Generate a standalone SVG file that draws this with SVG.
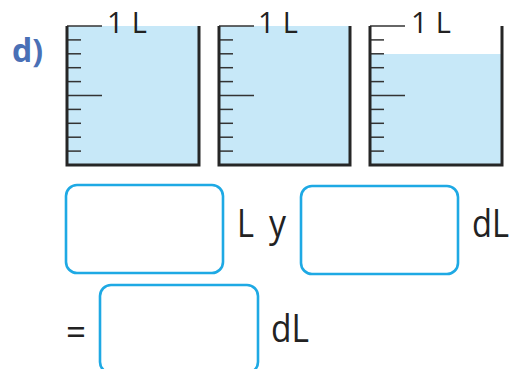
<svg xmlns="http://www.w3.org/2000/svg" width="514" height="369" viewBox="0 0 514 369">
<style>
.water{fill:#c7e8f8}
.wall{fill:none;stroke:#262626;stroke-width:3}
.tick{stroke:#333;stroke-width:1.5}
.box{fill:none;stroke:#1ea9e4;stroke-width:2.6}
.t{font-family:"Open Sans","DejaVu Sans",sans-serif;fill:#222}
</style>
<defs>
<g id="ticks">
<line class="tick" x1="0" y1="0" x2="35" y2="0"/>
<line class="tick" x1="0" y1="13.9" x2="14" y2="13.9"/>
<line class="tick" x1="0" y1="27.8" x2="14" y2="27.8"/>
<line class="tick" x1="0" y1="41.7" x2="14" y2="41.7"/>
<line class="tick" x1="0" y1="55.6" x2="14" y2="55.6"/>
<line class="tick" x1="0" y1="69.5" x2="35" y2="69.5"/>
<line class="tick" x1="0" y1="83.4" x2="14" y2="83.4"/>
<line class="tick" x1="0" y1="97.3" x2="14" y2="97.3"/>
<line class="tick" x1="0" y1="111.2" x2="14" y2="111.2"/>
<line class="tick" x1="0" y1="125.1" x2="14" y2="125.1"/>
</g>
</defs>
<text x="12" y="62" font-family="'Open Sans','DejaVu Sans',sans-serif" font-weight="bold" font-size="32" fill="#4a70b6">d)</text>
<g id="beaker1">
<rect class="water" x="67" y="26" width="132" height="139"/>
<use href="#ticks" x="67" y="26"/>
<path class="wall" d="M67,26 V165 H199 V26"/>
<text class="t" x="107" y="33" font-size="29" textLength="40" lengthAdjust="spacing">1 L</text>
</g>
<g id="beaker2">
<rect class="water" x="219" y="26" width="131" height="139"/>
<use href="#ticks" x="219" y="26"/>
<path class="wall" d="M219,26 V165 H350 V26"/>
<text class="t" x="258" y="33" font-size="29" textLength="40" lengthAdjust="spacing">1 L</text>
</g>
<g id="beaker3">
<rect class="water" x="370" y="54" width="132" height="111"/>
<use href="#ticks" x="370" y="26"/>
<path class="wall" d="M370,26 V165 H502 V26"/>
<text class="t" x="411" y="33" font-size="29" textLength="40" lengthAdjust="spacing">1 L</text>
</g>
<g id="box1"><rect class="box" x="66" y="185" width="157" height="88" rx="11"/></g>
<text class="t" x="237" y="237" font-size="39" textLength="17" lengthAdjust="spacingAndGlyphs">L</text>
<text class="t" x="269" y="237" font-size="39" textLength="17" lengthAdjust="spacingAndGlyphs">y</text>
<g id="box2"><rect class="box" x="301" y="186" width="157" height="88" rx="11"/></g>
<text class="t" x="472" y="237" font-size="39" textLength="37" lengthAdjust="spacingAndGlyphs">dL</text>
<text class="t" x="66" y="345" font-size="39" textLength="20" lengthAdjust="spacingAndGlyphs">=</text>
<g id="box3"><rect class="box" x="100" y="285" width="158" height="88" rx="11"/></g>
<text class="t" x="271" y="342" font-size="39" textLength="38" lengthAdjust="spacingAndGlyphs">dL</text>
<g id="connectors"/>
</svg>
